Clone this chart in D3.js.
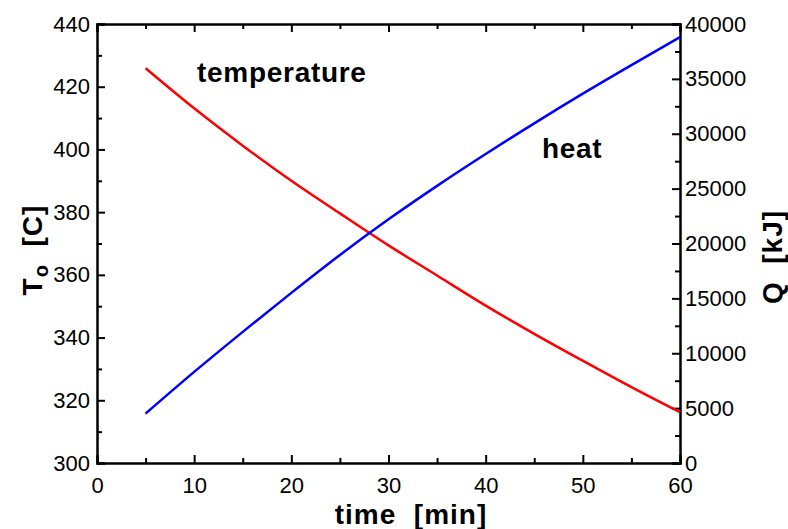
<!DOCTYPE html>
<html>
<head>
<meta charset="utf-8">
<script src="https://cdn.jsdelivr.net/npm/d3@7"></script>
<style>
  body { margin: 0; background: #fff; }
  svg { font-family: "Liberation Sans", Arial, sans-serif; }
  .axis path, .axis line { stroke: #000; stroke-width: 2; }
  .axis text { font-size: 22px; fill: #000; }
  .title { font-size: 28px; font-weight: bold; letter-spacing: 1px; }
  .note { font-size: 28px; font-weight: bold; letter-spacing: 0.7px; }
</style>
</head>
<body>
<script>
// values
const time = [5, 10, 15, 20, 25, 30, 35, 40, 45, 50, 55, 60];
const temperature = [425.9, 413.1, 401.2, 390.0, 379.6, 369.4, 359.8, 350.2, 341.2, 332.6, 324.2, 316.2];
const heat = [4500, 8300, 11950, 15500, 18950, 22200, 25250, 28150, 30950, 33650, 36250, 38800];

const xTicks = [0, 10, 20, 30, 40, 50, 60];
const xMinor = [5, 15, 25, 35, 45, 55];
const tTicks = [300, 320, 340, 360, 380, 400, 420, 440];
const tMinor = [310, 330, 350, 370, 390, 410, 430];
const qTicks = [0, 5000, 10000, 15000, 20000, 25000, 30000, 35000, 40000];
const qMinor = [2500, 7500, 12500, 17500, 22500, 27500, 32500, 37500];

const W = 788, H = 529;
const margin = {top: 24, right: 108, bottom: 66, left: 97};
const width = W - margin.left - margin.right;
const height = H - margin.top - margin.bottom;

const x = d3.scaleLinear().domain([0, 60]).range([0, width]);
const yT = d3.scaleLinear().domain([300, 440]).range([height, 0]);
const yQ = d3.scaleLinear().domain([0, 40000]).range([height, 0]);

const svg = d3.select('body').append('svg')
    .attr('width', W)
    .attr('height', H);

const g = svg.append('g')
    .attr('transform', `translate(${margin.left}, ${margin.top})`);

// minor ticks first, then major ticks with labels
function ticks(axis, vals, size, labels) {
  return axis.tickValues(vals).tickSize(-size).tickPadding(7)
    .tickFormat(labels ? d3.format('d') : '');
}

g.append('g').attr('class', 'axis')
    .attr('transform', `translate(0, ${height})`)
    .call(ticks(d3.axisBottom(x), xMinor, 5, false));
g.append('g').attr('class', 'axis')
    .attr('transform', `translate(0, ${height})`)
    .call(ticks(d3.axisBottom(x), xTicks, 8, true).tickPadding(14));

g.append('g').attr('class', 'axis')
    .call(ticks(d3.axisTop(x), xMinor, 5, false));
g.append('g').attr('class', 'axis')
    .call(ticks(d3.axisTop(x), xTicks, 8, false));

g.append('g').attr('class', 'axis')
    .call(ticks(d3.axisLeft(yT), tMinor, 5, false));
g.append('g').attr('class', 'axis')
    .call(ticks(d3.axisLeft(yT), tTicks, 8, true));

g.append('g').attr('class', 'axis')
    .attr('transform', `translate(${width}, 0)`)
    .call(ticks(d3.axisRight(yQ), qMinor, 5, false));
g.append('g').attr('class', 'axis')
    .attr('transform', `translate(${width}, 0)`)
    .call(ticks(d3.axisRight(yQ), qTicks, 8, true).tickPadding(5));

const lineT = d3.line().x((d, i) => x(time[i])).y(d => yT(d)).curve(d3.curveMonotoneX);
const lineQ = d3.line().x((d, i) => x(time[i])).y(d => yQ(d)).curve(d3.curveMonotoneX);

g.append('path')
    .datum(temperature)
    .attr('fill', 'none')
    .attr('stroke', '#ff0000')
    .attr('stroke-width', 2.5)
    .attr('d', lineT);

g.append('path')
    .datum(heat)
    .attr('fill', 'none')
    .attr('stroke', '#0000ff')
    .attr('stroke-width', 2.5)
    .attr('d', lineQ);

// curve labels
g.append('text').attr('class', 'note')
    .attr('x', x(10.3)).attr('y', yT(421.5))
    .text('temperature');
g.append('text').attr('class', 'note')
    .attr('x', x(45.8)).attr('y', yQ(27800))
    .text('heat');

// axis titles
svg.append('text').attr('class', 'title')
    .attr('x', 411).attr('y', 524)
    .attr('text-anchor', 'middle')
    .attr('xml:space', 'preserve')
    .text('time  [min]');

const tl = svg.append('text').attr('class', 'title')
    .attr('transform', 'translate(42, 250) rotate(-90)')
    .attr('text-anchor', 'middle')
    .attr('xml:space', 'preserve');
tl.append('tspan').text('T');
tl.append('tspan').attr('font-size', '20px').attr('dy', 6).text('o');
tl.append('tspan').attr('dy', -6).text('  [C]');

svg.append('text').attr('class', 'title')
    .attr('transform', 'translate(782, 257) rotate(-90)')
    .attr('text-anchor', 'middle')
    .attr('xml:space', 'preserve')
    .text('Q  [kJ]');
</script>
</body>
</html>
